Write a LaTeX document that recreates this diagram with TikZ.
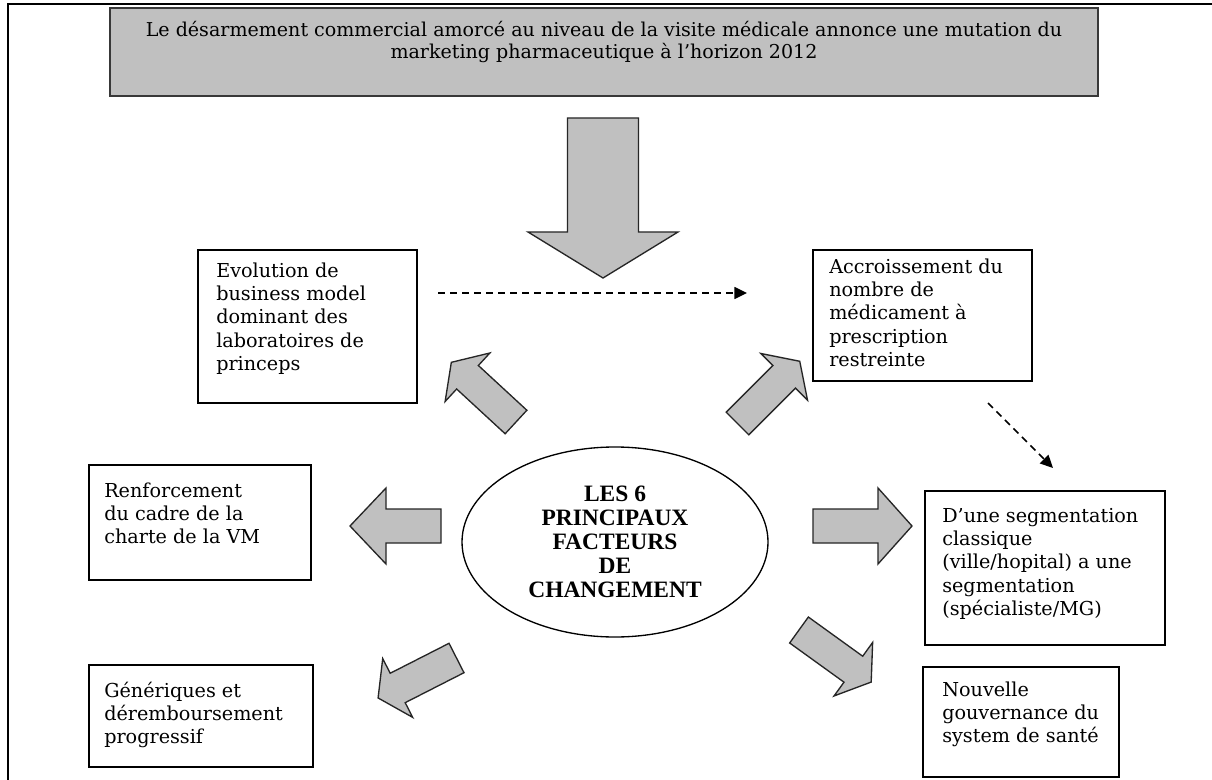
\documentclass[tikz,border=0pt]{standalone}
\usepackage{fontspec}
\setmainfont{DejaVu Serif}
\newfontfamily\headfont{Liberation Serif}
\usetikzlibrary{shapes.geometric,arrows.meta}

\definecolor{blockgray}{HTML}{C0C0C0}
\definecolor{edgegray}{HTML}{383838}

\tikzset{
  box/.style={draw=black, line width=1pt, inner sep=0pt, outer sep=0pt, anchor=north west},
  headbox/.style={box, fill=blockgray, draw=edgegray},
  boxtext/.style={anchor=north west, align=left, inner sep=0pt,
    font=\fontsize{14.4}{17.5}\selectfont},
  headtext/.style={anchor=north, align=center, inner sep=0pt,
    font=\fontsize{14.3}{16.5}\selectfont},
  blockarrow/.style={fill=blockgray, draw=black!85, line width=1pt, line join=miter},
  dashlink/.style={line width=1.1pt, dash pattern=on 5.25pt off 3.75pt,
    -{Triangle[length=9.5pt,width=9pt]}},
}

% block arrow: tail centre x, tail centre y, screen angle, length,
% shaft width, head width, head length (all in pixel units)
\newcommand\blockarrowat[7]{%
  \begin{scope}[shift={(#1,#2)}, rotate=-#3]
    \draw[blockarrow] (0,-#5/2) -- (#4-#7,-#5/2) -- (#4-#7,-#6/2) -- (#4,0)
      -- (#4-#7,#6/2) -- (#4-#7,#5/2) -- (0,#5/2) -- cycle;
  \end{scope}}

% first-line strut so each text block hangs from a fixed baseline
\newcommand\firstline{\rule{0pt}{16pt}}

\begin{document}
\begin{tikzpicture}[x=0.75pt, y=-0.75pt]
  \fill[white] (0,0) rectangle (1212,780);
  \useasboundingbox (0,0) rectangle (1212,780);

  % page frame
  \draw[line width=1.5pt] (8,780) -- (8,4) -- (1212,4);

  % headline box
  \node[headbox, minimum width=741pt, minimum height=66pt] (head) at (110,8) {};
  \node[headtext] (headt) at (604,14.7) {\firstline Le désarmement commercial amorcé au niveau de la visite médicale annonce une mutation du\\
    marketing pharmaceutique à l’horizon 2012};

  % central downward arrow
  \blockarrowat{603}{118}{90}{160}{71}{150}{46}

  % factor boxes
  \node[box, minimum width=164.25pt, minimum height=114.75pt] (evo) at (198,250) {};
  \node[boxtext] (evot) at (216,255.7) {\firstline Evolution de\\business model\\dominant des\\laboratoires de\\princeps};

  \node[box, minimum width=164.25pt, minimum height=98.25pt] (acc) at (813,250) {};
  \node[boxtext] (acct) at (829,251.7) {\firstline Accroissement du\\nombre de\\médicament à\\prescription\\restreinte};

  \node[box, minimum width=166.5pt, minimum height=86.25pt] (ren) at (89,465) {};
  \node[boxtext] (rent) at (104,475.7) {\firstline Renforcement\\du cadre de la\\charte de la VM};

  \node[box, minimum width=180pt, minimum height=115.5pt] (seg) at (925,491) {};
  \node[boxtext] (segt) at (942,500.7) {\firstline D’une segmentation\\classique\\(ville/hopital) a une\\segmentation\\(spécialiste/MG)};

  \node[box, minimum width=168pt, minimum height=76.5pt] (gen) at (89,665) {};
  \node[boxtext] (gent) at (104,675.7) {\firstline Génériques et\\déremboursement\\progressif};

  \node[box, minimum width=147pt, minimum height=82.5pt] (gov) at (923,667) {};
  \node[boxtext] (govt) at (942,674.7) {\firstline Nouvelle\\gouvernance du\\system de santé};

  % central ellipse
  \node[draw, ellipse, line width=1pt, minimum width=229.5pt, minimum height=142.5pt,
    inner sep=0pt, align=center,
    font=\headfont\bfseries\fontsize{17.6}{18}\selectfont] (core) at (615,542)
    {LES 6\\PRINCIPAUX\\FACTEURS\\DE\\CHANGEMENT};

  % block arrows radiating from the ellipse
  \blockarrowat{516}{422}{-137.3}{88}{32}{66}{22}
  \blockarrowat{737.5}{423.5}{-45}{88}{32}{66}{22}
  \blockarrowat{441}{526}{180}{91}{34}{76}{36}
  \blockarrowat{813}{526}{0}{99}{34}{76}{34}
  \blockarrowat{456.5}{658}{153}{88}{33}{66}{22}
  \blockarrowat{799}{630}{35.8}{89}{32}{66}{22}

  % dashed links
  \coordinate (d1a) at (438,293);
  \coordinate (d1b) at (747,293);
  \draw[dashlink] (d1a) -- (d1b);
  \coordinate (d2a) at (988,403);
  \coordinate (d2b) at (1053,468);
  \draw[dashlink] (d2a) -- (d2b);
\end{tikzpicture}
\end{document}
